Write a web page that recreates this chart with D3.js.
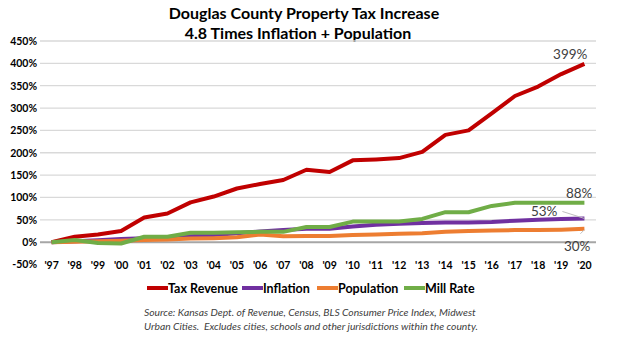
<!DOCTYPE html>
<html>
<head>
<meta charset="utf-8">
<script src="https://cdn.jsdelivr.net/npm/d3@7"></script>
<style>
  body { margin: 0; background: #fff; }
  svg { display: block; font-family: Lato, "Open Sans", sans-serif; }
</style>
</head>
<body>
<svg width="624" height="341"></svg>
<script>
var years = ["'97","'98","'99","'00","'01","'02","'03","'04","'05","'06","'07","'08",
             "'09","'10","'11","'12","'13","'14","'15","'16","'17","'18","'19","'20"];
var taxRevenue = [0,12,17,25,55,64,89,102,120,130,139,162,157,183,185,188,202,240,250,288,327,348,376,399];
var inflation  = [0,2,4,7,9,11,13,16,20,24,27,30,30,35,39,41,43,44,44,45,48,50,52,53];
var population = [0,1,2,3,5,6,8,9,11,17,13,14,14,16,17,19,20,23,25,26,27,27,28,30];
var millRate   = [0,5,-2,-3,12,12,21,21,22,23,23,34,34,46,46,46,52,67,67,81,88,88,88,88];
var yTicks = [-50,0,50,100,150,200,250,300,350,400,450];
var seriesNames = ["Tax Revenue","Inflation","Population","Mill Rate"];
var seriesColors = ["#c00000","#7030a0","#ed7d31","#70ad47"];
var seriesValues = [taxRevenue, inflation, population, millRate];

var chart = d3.select('svg');
var plotLeft = 40, plotRight = 596, plotTop = 41, plotBottom = 264.5;

var x = d3.scaleBand().domain(years).range([plotLeft, plotRight]);
var xc = function(d) { return x(d) + x.bandwidth() / 2; };
var y = d3.scaleLinear().domain([-50, 450]).range([plotBottom, plotTop]);

// title
chart.append("text")
    .attr("x", 304).attr("y", 18.5)
    .attr("text-anchor", "middle")
    .attr("font-size", "16px").attr("font-weight", "bold")
    .attr("fill", "#000")
    .text("Douglas County Property Tax Increase");
chart.append("text")
    .attr("x", 298).attr("y", 38.5)
    .attr("text-anchor", "middle")
    .attr("font-size", "16px").attr("font-weight", "bold")
    .attr("fill", "#000")
    .text("4.8 Times Inflation + Population");

// gridlines (none drawn at the axis minimum)
chart.append("g").selectAll("line")
    .data(yTicks.filter(function(t) { return t > -50; }))
    .enter().append("line")
    .attr("x1", plotLeft).attr("x2", plotRight)
    .attr("y1", function(d) { return y(d); })
    .attr("y2", function(d) { return y(d); })
    .attr("stroke", function(d) { return d === 0 ? "#a6a6a6" : "#d9d9d9"; })
    .attr("stroke-width", function(d) { return d === 0 ? 2 : 1.3; });

// y axis labels
var yAxis = d3.axisLeft(y).tickValues(yTicks).tickSize(0).tickPadding(0)
    .tickFormat(function(d) { return d + "%"; });
var yg = chart.append("g").attr("transform", "translate(37,0)").call(yAxis);
yg.select(".domain").remove();
yg.selectAll("text").attr("font-family", "Lato, sans-serif")
    .attr("font-size", "10.5px").attr("font-weight", "bold").attr("fill", "#000");

// x axis labels
var xAxis = d3.axisBottom(x).tickSize(0).tickPadding(0);
var xg = chart.append("g").attr("transform", "translate(0,262)").call(xAxis);
xg.select(".domain").remove();
xg.selectAll("text").attr("font-family", "Lato, sans-serif")
    .attr("font-size", "10.5px").attr("font-weight", "bold").attr("fill", "#000");

// series lines
var line = d3.line()
    .x(function(d, i) { return xc(years[i]); })
    .y(function(d) { return y(d); });
seriesValues.forEach(function(vals, k) {
    chart.append("path")
        .datum(vals)
        .attr("d", line)
        .attr("fill", "none")
        .attr("stroke", seriesColors[k])
        .attr("stroke-width", 4)
        .attr("stroke-linejoin", "round");
});

// end-point data labels
var last = years[years.length - 1];
var lx = xc(last);
function endLabel(val, dx, dy) {
    chart.append("text")
        .attr("x", lx + dx).attr("y", y(val) + dy)
        .attr("text-anchor", "end")
        .attr("font-size", "13.5px").attr("fill", "#404040")
        .text(val + "%");
}
endLabel(taxRevenue[23], 3, -5);
endLabel(millRate[23], 8, -5);
endLabel(inflation[23], -27, -2);
endLabel(population[23], 6, 22);

// leader lines
chart.append("line")
    .attr("x1", lx - 22).attr("y1", y(inflation[23]) - 7)
    .attr("x2", lx).attr("y2", y(inflation[23]))
    .attr("stroke", "#bfbfbf").attr("stroke-width", 1);
chart.append("line")
    .attr("x1", lx - 4).attr("y1", y(population[23]) + 5)
    .attr("x2", lx).attr("y2", y(population[23]) + 1)
    .attr("stroke", "#bfbfbf").attr("stroke-width", 1);

// legend
var legendX = [147, 242, 317, 404];
var legend = chart.append("g").selectAll("g")
    .data(seriesNames).enter().append("g")
    .attr("transform", function(d, i) { return "translate(" + legendX[i] + ",288)"; });
legend.append("line")
    .attr("x1", 0).attr("x2", 21).attr("y1", 0).attr("y2", 0)
    .attr("stroke", function(d, i) { return seriesColors[i]; })
    .attr("stroke-width", 4);
legend.append("text")
    .attr("x", 21).attr("y", 4.5)
    .attr("font-size", "12.5px").attr("font-weight", "bold").attr("fill", "#000")
    .text(function(d) { return d; });

// source note
var notes = ["Source: Kansas Dept. of Revenue, Census, BLS Consumer Price Index, Midwest",
             "Urban Cities.  Excludes cities, schools and other jurisdictions within the county."];
chart.append("g").selectAll("text")
    .data(notes).enter().append("text")
    .attr("x", 144)
    .attr("y", function(d, i) { return 316 + i * 14; })
    .attr("font-size", "10.3px").attr("font-style", "italic").attr("fill", "#404040")
    .style("white-space", "pre")
    .text(function(d) { return d; });
</script>
</body>
</html>
